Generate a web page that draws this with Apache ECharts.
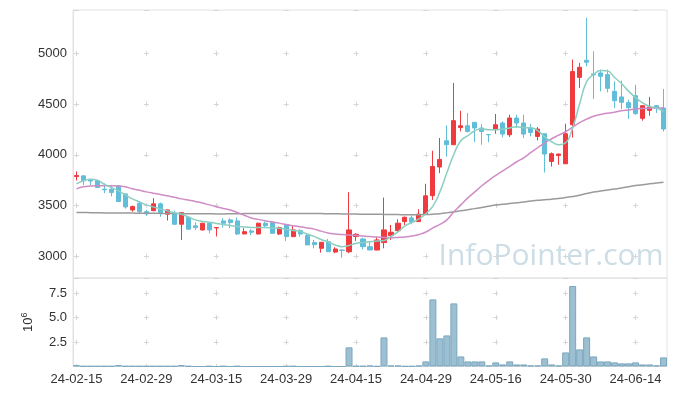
<!DOCTYPE html>
<html><head><meta charset="utf-8">
<script src="https://cdn.jsdelivr.net/npm/echarts@6/dist/echarts.min.js"></script>
<style>html,body{margin:0;padding:0;background:#fff}#c{width:677px;height:396px}</style>
</head><body><div id="c"></div>
<script>
const dates = ['24-02-15','24-02-16','24-02-19','24-02-20','24-02-21','24-02-22','24-02-23','24-02-26','24-02-27','24-02-28','24-02-29',
'24-03-04','24-03-05','24-03-06','24-03-07','24-03-08','24-03-11','24-03-12','24-03-13','24-03-14','24-03-15',
'24-03-18','24-03-19','24-03-20','24-03-21','24-03-22','24-03-25','24-03-26','24-03-27','24-03-28','24-03-29',
'24-04-01','24-04-02','24-04-03','24-04-04','24-04-05','24-04-08','24-04-09','24-04-11','24-04-12','24-04-15',
'24-04-16','24-04-17','24-04-18','24-04-19','24-04-22','24-04-23','24-04-24','24-04-25','24-04-26','24-04-29',
'24-04-30','24-05-02','24-05-03','24-05-07','24-05-08','24-05-09','24-05-10','24-05-13','24-05-14','24-05-16',
'24-05-17','24-05-20','24-05-21','24-05-22','24-05-23','24-05-24','24-05-27','24-05-28','24-05-29','24-05-30',
'24-05-31','24-06-03','24-06-04','24-06-05','24-06-07','24-06-10','24-06-11','24-06-12','24-06-13','24-06-14',
'24-06-17','24-06-18','24-06-19','24-06-20'];

const openP  = [3786,3793,3750,3747,3662,3662,3695,3615,3457,3524,3440,3450,3517,3415,3425,3316,3385,3300,3260,3326,
3280,3349,3359,3349,3220,3250,3220,3326,3336,3220,3309,3194,3253,3204,3135,3079,3144,3042,3062,3045,
3194,3171,3095,3062,3135,3204,3253,3342,3378,3342,3418,3598,3880,4139,4100,4270,4287,4320,4265,4200,
4248,4314,4198,4363,4314,4265,4182,4208,3935,3994,3912,4297,4764,4933,4798,4808,4791,4626,4571,4515,
4583,4360,4439,4485,4462];
const closeP = [3796,3744,3742,3678,3655,3628,3540,3487,3490,3440,3418,3517,3425,3457,3316,3430,3267,3283,3326,3260,
3283,3326,3332,3220,3243,3237,3326,3302,3227,3283,3194,3260,3220,3112,3115,3138,3045,3072,3058,3260,
3217,3095,3062,3161,3260,3237,3326,3385,3336,3415,3596,3885,3955,4100,4337,4287,4231,4265,4231,4198,
4297,4205,4363,4314,4205,4221,4254,4008,4011,4008,4208,4821,4863,4913,4788,4774,4656,4534,4518,4465,
4406,4485,4472,4458,4255];
const lowP   = [3747,3701,3700,3675,3622,3590,3535,3470,3440,3425,3398,3445,3390,3352,3312,3161,3267,3260,3253,3227,
3195,3283,3277,3210,3220,3210,3217,3277,3220,3210,3151,3188,3194,3112,3079,3036,3045,3030,2985,3030,
3151,3069,3062,3060,3079,3161,3243,3309,3316,3340,3415,3556,3820,3984,4100,4231,4221,4126,4100,4125,
4208,4172,4175,4265,4166,4182,4142,3826,3885,3902,3910,4170,4660,4873,4551,4626,4616,4462,4452,4354,
4396,4337,4386,4413,4231];
const highP  = [3836,3795,3760,3750,3720,3704,3702,3620,3500,3540,3457,3573,3530,3460,3450,3432,3390,3336,3330,3330,
3285,3375,3375,3382,3277,3267,3332,3342,3340,3293,3316,3302,3267,3227,3161,3140,3171,3089,3066,3632,
3227,3184,3151,3188,3579,3309,3365,3391,3401,3464,3715,4040,4166,4290,4709,4435,4413,4325,4304,4202,
4403,4330,4396,4396,4396,4304,4274,4210,4024,4011,4307,4939,4907,5352,5021,4841,4841,4725,4732,4544,
4692,4485,4571,4485,4650];

const ma5 = [3714,3744,3759,3749,3709,3680,3645,3606,3566,3536,3507,3487,3467,3448,3428,3413,3388,3359,
3344,3336,3324,3314,3304,3294,3289,3285,3283,3283,3280,3277,3265,3255,3245,3220,
3196,3166,3141,3112,3095,3107,3128,3136,3144,3151,3156,3196,3240,3299,3334,3369,3420,
3494,3635,3823,4006,4139,4189,4238,4258,4248,4248,4253,4265,4277,4268,
4268,4238,4178,4129,4100,4119,4268,4503,4722,4792,4831,4826,4762,4703,4628,4564,4513,4478,4462,4429];

const ma20 = [3665,3685,3692,3695,3695,3695,3692,3685,3665,3650,3635,3622,3610,3596,3581,3566,3556,3541,3525,3507,
3489,3472,3457,3432,3405,3378,3364,3351,3339,3327,3314,3301,3291,3280,3268,3248,3230,3220,3214,3210,
3205,3199,3194,3189,3186,3184,3186,3191,3200,3215,3240,3280,3314,3359,3438,3507,3576,3635,3695,3749,
3798,3843,3887,3932,3971,4021,4070,4119,4159,4194,4228,4273,4317,4352,4381,4398,4411,4421,4434,4443,
4452,4457,4460,4462,4462];

const maLong = [3432,3431,3430,3429,3428,3428,3427,3426,3426,3425,3425,3424,3423,3422,3421,3421,3420,3420,3419,3419,
3418,3418,3419,3420,3421,3421,3422,3422,3423,3423,3423,3423,3423,3422,3422,3421,3420,3419,3418,3417,
3416,3415,3414,3414,3413,3412,3411,3410,3409,3410,3412,3415,3420,3428,3438,3448,3459,3470,3482,3494,
3505,3513,3520,3528,3536,3545,3553,3558,3563,3570,3580,3590,3602,3618,3633,3643,3653,3663,3673,3685,
3697,3706,3714,3722,3730];

// volume in millions
const volume = [0.14,0.04,0.04,0.04,0.04,0.04,0.14,0.04,0.04,0.04,0.04,0.04,0.04,0.04,0.04,0.15,0.04,0,0,0.04,
0,0.04,0,0.04,0,0,0,0,0,0,0.04,0.04,0,0,0,0,0.04,0,0,1.96,
0.05,0.05,0.1,0.03,2.98,0.1,0.1,0.03,0.03,0.1,0.52,6.87,2.88,3.18,6.46,1.03,0.52,0.52,0.52,0.11,
0.42,0.21,0.52,0.21,0.21,0.11,0.11,0.83,0.21,0.11,1.44,8.24,1.75,2.98,1.03,0.52,0.52,0.42,0.32,0.32,
0.42,0.21,0.21,0.11,0.93];

const UP = '#ef3a3f', DOWN = '#62bdd8', GRID = '#e2e2e2', MARK = '#d6d6d6';
const chart = echarts.init(document.getElementById('c'), null, {renderer:'canvas'});
const candleData = dates.map((d,i)=>[openP[i], closeP[i], lowP[i], highP[i]]);
const lbl = {color:'#333', fontSize:13, fontFamily:'Liberation Sans, Arial, sans-serif'};

chart.setOption({
  animation:false,
  graphic:[{type:'text', left:null, x:551, y:256, z:-1, style:{text:'InfoPointer.com', fill:'rgba(170,198,214,0.6)', font:'30px "Open Sans", sans-serif', textAlign:'center', textVerticalAlign:'middle'}}],
  grid:[
    {left:73, top:10, width:594, height:268, show:true, borderColor:GRID, borderWidth:1},
    {left:73, top:278, width:594, height:88.5, show:true, borderColor:GRID, borderWidth:1}
  ],
  xAxis:[
    {type:'category', gridIndex:0, data:dates, boundaryGap:true,
     axisLine:{show:false}, axisTick:{show:false}, axisLabel:{show:false, interval:9},
     splitLine:{show:true, interval:9, alignWithLabel:true, lineStyle:{color:MARK, width:1, type:[5,45.72], dashOffset:9.80}}},
    {type:'category', gridIndex:1, data:dates, boundaryGap:true,
     axisLine:{show:true, lineStyle:{color:GRID}}, axisTick:{show:false},
     axisLabel:Object.assign({interval:9, margin:6}, lbl),
     splitLine:{show:true, interval:9, alignWithLabel:true, lineStyle:{color:MARK, width:1, type:[5,19.42], dashOffset:11.68}}}
  ],
  yAxis:[
    {type:'value', gridIndex:0, min:2786, max:5428, splitNumber:5, scale:true,
     axisLine:{show:true, lineStyle:{color:GRID}}, axisTick:{show:false},
     axisLabel:Object.assign({margin:6, formatter:v=> (Math.abs(v%500)<1e-6 ? String(v) : '')}, lbl),
     splitLine:{show:true, lineStyle:{color:MARK, width:1, type:[5,64.88], dashOffset:68.88}}},
    {type:'value', gridIndex:1, min:0, max:9.06, interval:2.5,
     name:'{a|10}{b|6}', nameLocation:'middle', nameRotate:90, nameGap:36,
     nameTextStyle:{rich:{a:{fontSize:13, color:'#333', fontFamily:'Liberation Sans, Arial, sans-serif'}, b:{fontSize:9, color:'#333', verticalAlign:'top', padding:[0,0,8,0], fontFamily:'Liberation Sans, Arial, sans-serif'}}},
     axisLine:{show:true, lineStyle:{color:GRID}}, axisTick:{show:false},
     axisLabel:Object.assign({margin:6, formatter:v=> (v>0 && Math.abs(v/2.5-Math.round(v/2.5))<1e-6 ? v.toFixed(1) : '')}, lbl),
     splitLine:{show:true, lineStyle:{color:MARK, width:1, type:[5,64.88], dashOffset:68.88}}}
  ],
  series:[
    {type:'candlestick', xAxisIndex:0, yAxisIndex:0, data:candleData, barWidth:'66%',
     itemStyle:{color:UP, color0:DOWN, borderColor:UP, borderColor0:DOWN, borderWidth:1}},
    {type:'line', xAxisIndex:0, yAxisIndex:0, data:maLong, smooth:true, showSymbol:false, lineStyle:{color:'#9a9a9a', width:1.5}},
    {type:'line', xAxisIndex:0, yAxisIndex:0, data:ma20, smooth:true, showSymbol:false, lineStyle:{color:'#cf8cc6', width:1.5}},
    {type:'line', xAxisIndex:0, yAxisIndex:0, data:ma5, smooth:true, showSymbol:false, lineStyle:{color:'#8bcfc2', width:1.5}},
    {type:'bar', xAxisIndex:1, yAxisIndex:1, data:volume, barCategoryGap:'0%',
     itemStyle:{color:'#9cc0d2', borderColor:'#7ba6bd', borderWidth:1}}
  ]
});
</script></body></html>
